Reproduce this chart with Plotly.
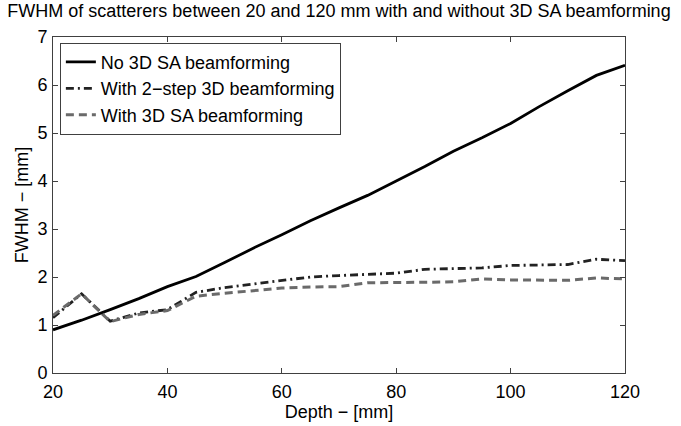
import plotly.graph_objects as go

depth = [20, 25, 30, 35, 40, 45, 50, 55, 60, 65, 70, 75, 80, 85, 90, 95, 100, 105, 110, 115, 120]
no_sa = [0.90, 1.10, 1.32, 1.55, 1.80, 2.01, 2.30, 2.60, 2.88, 3.17, 3.44, 3.70, 4.00, 4.30, 4.62, 4.90, 5.20, 5.55, 5.88, 6.20, 6.41]
two_step = [1.15, 1.65, 1.08, 1.25, 1.32, 1.68, 1.78, 1.85, 1.92, 2.00, 2.03, 2.05, 2.08, 2.16, 2.18, 2.19, 2.24, 2.25, 2.26, 2.37, 2.34]
with_sa = [1.20, 1.65, 1.07, 1.22, 1.30, 1.60, 1.66, 1.72, 1.77, 1.79, 1.80, 1.88, 1.88, 1.89, 1.90, 1.96, 1.94, 1.93, 1.93, 1.98, 1.96]

names = ["No 3D SA beamforming", "With 2\u2212step 3D beamforming", "With 3D SA beamforming"]
x_ticks = [20, 40, 60, 80, 100, 120]
y_ticks = [0, 1, 2, 3, 4, 5, 6, 7]

FONT = "Liberation Sans, Arial, sans-serif"
FS = 18

fig = go.Figure()
fig.add_trace(go.Scatter(x=depth, y=no_sa, mode="lines", name=names[0],
                         line=dict(color="#000000", width=2.8)))
fig.add_trace(go.Scatter(x=depth, y=two_step, mode="lines", name=names[1],
                         line=dict(color="#222222", width=2.8, dash="8px,4px,2px,4px")))
fig.add_trace(go.Scatter(x=depth, y=with_sa, mode="lines", name=names[2],
                         line=dict(color="#6a6a6a", width=3, dash="8px,5px")))

axis_common = dict(
    showgrid=False, zeroline=False, showline=True, linecolor="#404040", linewidth=1,
    mirror="ticks", ticks="inside", ticklen=5, tickcolor="#404040",
    tickfont=dict(family=FONT, size=FS, color="#000000"),
)

fig.update_xaxes(range=[20, 120], tickvals=x_ticks, ticktext=[str(v) for v in x_ticks],
                 title=dict(text="Depth \u2212 [mm]", font=dict(family=FONT, size=FS, color="#000"), standoff=0),
                 ticklabelstandoff=2,
                 **axis_common)
fig.update_yaxes(range=[0, 7], tickvals=y_ticks, ticktext=[str(v) for v in y_ticks],
                 title=dict(text="FWHM \u2212 [mm]", font=dict(family=FONT, size=FS, color="#000"), standoff=4),
                 ticklabelstandoff=1,
                 **axis_common)

fig.update_layout(
    width=681, height=426,
    margin=dict(l=53, r=56, t=37, b=48),
    paper_bgcolor="white", plot_bgcolor="white",
    title=dict(text="FWHM of scatterers between 20 and 120 mm with and without 3D SA beamforming",
               font=dict(family=FONT, size=FS, color="#000"),
               x=0.5, xanchor="center", xref="paper", y=0.99, yanchor="top"),
    legend=dict(x=0.012, y=0.983, xanchor="left", yanchor="top",
                bordercolor="#404040", borderwidth=1, bgcolor="white",
                font=dict(family=FONT, size=FS, color="#000"),
                tracegroupgap=0, itemwidth=30),
    showlegend=True,
)

fig.write_html("out.html")
